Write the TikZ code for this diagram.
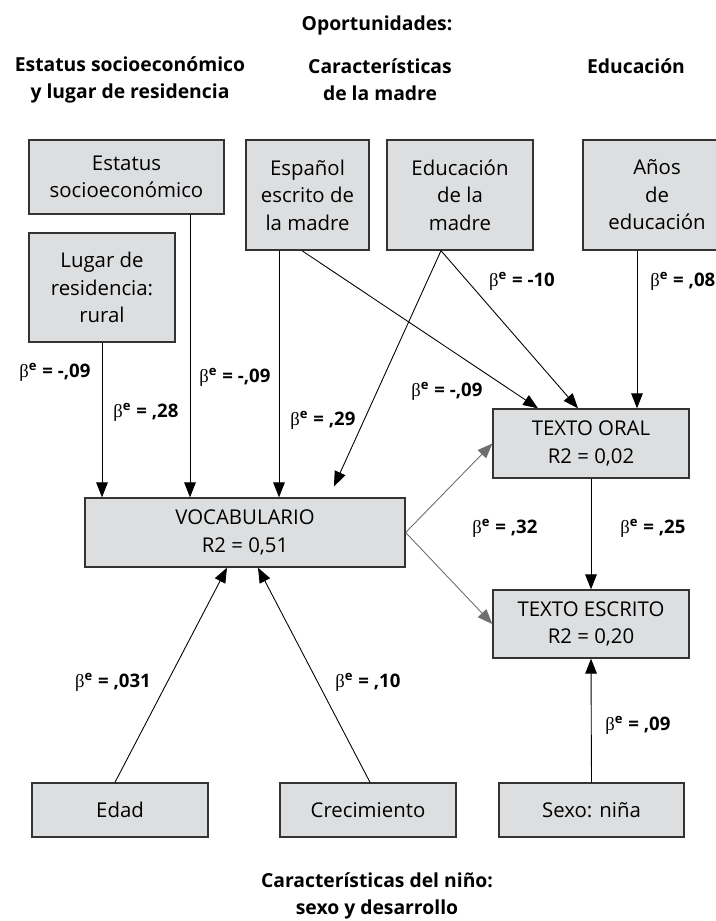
\documentclass[tikz,border=0pt]{standalone}
\usepackage{fontspec}
\setmainfont{Open Sans}
\newfontfamily\grk{Liberation Serif}
\usetikzlibrary{arrows.meta}

\definecolor{cajagris}{RGB}{221,222,223}
\definecolor{lineagris}{RGB}{110,110,110}

% coeficiente estandarizado
\newcommand{\betae}[1]{{\mdseries\grk β}\textsuperscript{e} = #1}

\tikzset{
  caja/.style={draw=black!80, fill=cajagris, line width=0.8pt, align=center,
    inner sep=0pt, font=\fontsize{11.6}{15.6}\selectfont},
  titulo/.style={align=center, font=\bfseries\fontsize{11}{15.4}\selectfont},
  coef/.style={inner sep=0pt, anchor=base, font=\bfseries\fontsize{10.6}{13}\selectfont},
  flecha/.style={-{Triangle[length=8.5pt,width=6.6pt]}, line width=0.5pt},
  flechagris/.style={flecha, draw=lineagris}
}

\begin{document}
\begin{tikzpicture}[x=0.02cm, y=-0.02cm]
        \useasboundingbox[fill=white] (0,0) rectangle (716,921);

        % titulos
        \node[titulo, anchor=base](oport) at (377, 30) {Oportunidades:};
        \node[titulo](tses) at (130, 80) {Estatus socioeconómico\\y lugar de residencia};
        \node[titulo](tmadre) at (380, 80) {Características\\de la madre};
        \node[titulo, anchor=base](tedu) at (636, 73) {Educación};
        \node[titulo](tnino) at (377, 896) {Características del niño:\\sexo y desarrollo};

        % cajas
        \node[caja, minimum width=3.9cm, minimum height=1.48cm](estatus) at (126.5, 177) {Estatus\\socioeconómico};
        \node[caja, minimum width=2.92cm, minimum height=2.18cm](lugar) at (102, 287.5) {Lugar de\\residencia:\\rural};
        \node[caja, minimum width=2.46cm, minimum height=2.2cm](espanol) at (307.5, 195) {Español\\escrito de\\la madre};
        \node[caja, minimum width=2.92cm, minimum height=2.2cm](edumadre) at (460, 195) {Educación\\de la\\madre};
        \node[caja, minimum width=2.96cm, minimum height=2.2cm](anos) at (657, 195) {Años\\de\\educación};

        \node[caja, minimum width=6.4cm, minimum height=1.38cm](vocab) at (245, 532.5) {VOCABULARIO\\R2 = 0,51};
        \node[caja, minimum width=3.92cm, minimum height=1.38cm](oral) at (591, 443.5) {TEXTO ORAL\\R2 = 0,02};
        \node[caja, minimum width=3.92cm, minimum height=1.36cm](escrito) at (591, 624) {TEXTO ESCRITO\\R2 = 0,20};

        \node[caja, minimum width=3.52cm, minimum height=1.08cm](edad) at (120, 810) {Edad};
        \node[caja, minimum width=3.52cm, minimum height=1.08cm](crec) at (368, 810) {Crecimiento};
        \node[caja, minimum width=3.7cm, minimum height=1.08cm](sexo) at (591.5, 810) {Sexo: niña};

        % flechas hacia vocabulario
        \draw[flecha] (lugar.south) -- (lugar.south |- vocab.north);
        \draw[flecha] (estatus.south -| 190,0) -- (vocab.north -| 190,0);
        \draw[flecha] (espanol.south -| 279,0) -- (vocab.north -| 279,0);
        \draw[flecha, shorten >=0.24cm] (edumadre.south -| 441,0) -- (vocab.north -| 329,0);
        \draw[flecha] (edad.north -| 115,0) -- (vocab.south -| 227,0);
        \draw[flecha] (crec.north -| 370,0) -- (vocab.south -| 258,0);

        % flechas hacia texto oral
        \draw[flecha] (espanol.south -| 302,0) -- (oral.north -| 538,0);
        \draw[flecha] (edumadre.south -| 441,0) -- (oral.north -| 578,0);
        \draw[flecha] (anos.south -| 637,0) -- (oral.north -| 637,0);
        \draw[flechagris] (vocab.east) -- (oral.west);

        % flechas hacia texto escrito
        \draw[flechagris] (vocab.east) -- (escrito.west);
        \draw[flecha] (oral.south) -- (escrito.north);
        \draw[flecha] (sexo.north) -- (escrito.south);

        % coeficientes
        \node[coef](b1) at (55, 377) {\betae{-,09}};
        \node[coef](b2) at (146, 417) {\betae{,28}};
        \node[coef](b3) at (235, 382) {\betae{-,09}};
        \node[coef](b4) at (323, 425) {\betae{,29}};
        \node[coef](b5) at (447, 396) {\betae{-,09}};
        \node[coef](b6) at (522, 286) {\betae{-10}};
        \node[coef, anchor=base west](b7) at (650, 286) {\betae{,08}};
        \node[coef](b8) at (505, 533) {\betae{,32}};
        \node[coef](b9) at (653, 533) {\betae{,25}};
        \node[coef](b10) at (113, 687) {\betae{,031}};
        \node[coef](b11) at (368, 687) {\betae{,10}};
        \node[coef](b12) at (638, 730) {\betae{,09}};
\end{tikzpicture}
\end{document}
